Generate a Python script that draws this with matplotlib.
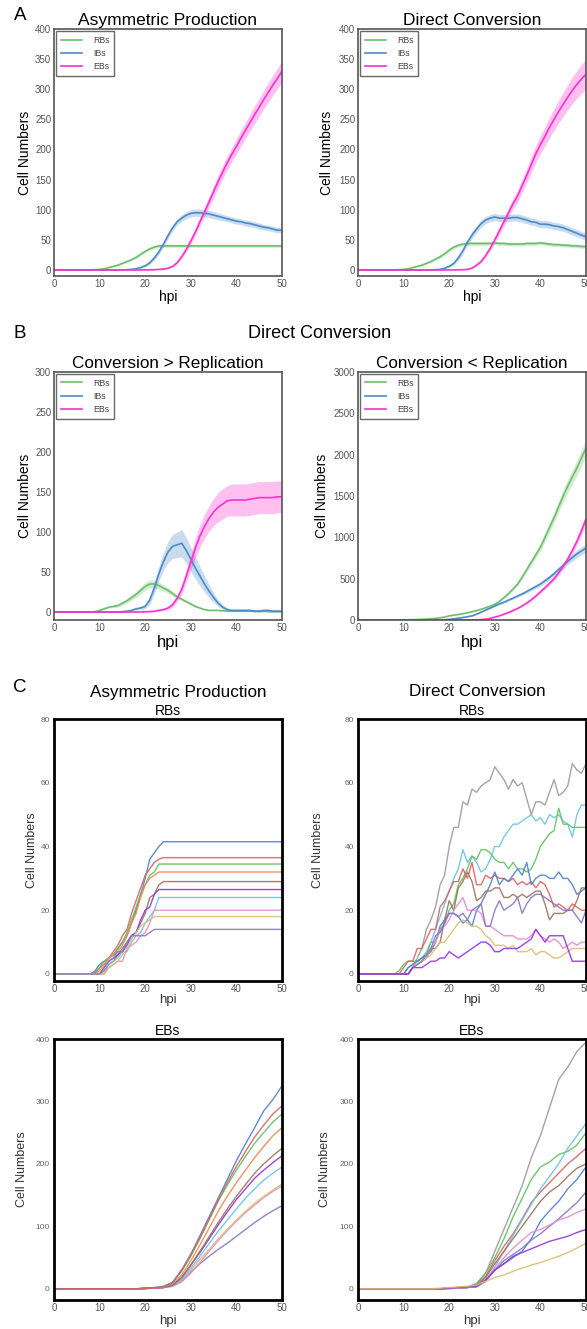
import numpy as np
import matplotlib
matplotlib.use("Agg")
import matplotlib.pyplot as plt

plt.rcParams['font.family'] = ['Liberation Sans', 'DejaVu Sans']

# ---------------- data ----------------
hpi = np.arange(0, 51)          # 0..50 hpi, 1 h steps
hpi2 = np.arange(0, 51, 2)      # 0..50 hpi, 2 h steps

series_names = ["RBs", "IBs", "EBs"]

# Panel A - Asymmetric Production (mean, band half-width)
rb_asym_mean = [0]*9 + [0.5, 1, 2, 4, 6, 8, 11, 14, 17, 21, 26, 31, 35, 38, 40, 40] + [40]*26
rb_asym_sd = [0]*9 + [0.3, 0.5, 0.7, 1, 1, 1.2, 1.5, 1.5, 1.8, 2, 2, 2.5, 2.5, 2.5, 2.5, 2.5, 2.5] + [2.5]*25
ib_asym_mean = [0]*16 + [0.5, 1, 2, 4, 7, 12, 20, 30, 43, 57,
                         70, 80, 86, 91, 94, 95, 95, 94, 93, 91,
                         89, 87, 85, 83, 81, 80, 78, 77, 75, 73,
                         71, 70, 68, 66, 66]
ib_asym_sd = [0]*16 + [0.3, 0.5, 1, 1.5, 2, 3, 3.5, 4, 4.5, 5,
                       5, 5, 5.5, 5.5, 6, 6, 6, 6, 6, 6,
                       5.5, 5.5, 5, 5, 5, 5, 5, 5, 5, 5,
                       4.5, 4.5, 4.5, 4.5, 4.5]
eb_asym_mean = [0]*21 + [0.3, 0.5, 1, 1.5, 3, 6, 12, 22, 34, 48,
                         63, 80, 96, 113, 130, 147, 163, 178, 192, 205,
                         219, 232, 245, 258, 270, 283, 295, 307, 318, 330]
eb_asym_sd = [0]*21 + [0.2, 0.3, 0.5, 0.7, 1, 1.5, 2, 3, 4, 5,
                       6, 7, 8, 9, 10, 10.5, 11, 11.5, 12, 12.5,
                       13, 13.5, 14, 14.5, 15, 15.5, 16, 16.5, 17, 18]

# Panel A - Direct Conversion
rb_direct_mean = [0]*9 + [0.5, 1, 2, 4, 6, 8, 11, 14, 18, 22,
                          27, 33, 38, 41, 43, 44, 44, 44, 44, 44,
                          44, 45, 44, 44, 43, 43, 43, 43, 44, 44,
                          44, 45, 44, 43, 42, 42, 41, 41, 40, 40,
                          39, 39]
rb_direct_sd = [0]*9 + [0.3, 0.5, 0.7, 1, 1, 1.2, 1.5, 1.8, 2, 2.5] + [3]*32
ib_direct_mean = [0]*17 + [0.5, 1, 3, 6, 11, 20, 32, 46, 58, 68,
                           77, 83, 86, 88, 86, 86, 86, 87, 87, 85,
                           83, 80, 79, 76, 76, 75, 73, 72, 70, 67,
                           64, 61, 58, 55]
ib_direct_sd = [0]*17 + [0.3, 0.5, 1, 2, 3, 4, 5, 5.5, 6, 6] + [6]*24
eb_direct_mean = [0]*22 + [0.3, 0.5, 1, 3, 8, 14, 24, 36, 50,
                           65, 80, 95, 110, 123, 140, 157, 175, 193, 208,
                           222, 237, 250, 263, 275, 287, 298, 308, 317, 325]
eb_direct_sd = [0]*22 + [0.2, 0.3, 0.5, 1, 1.5, 2, 3, 4, 5,
                         6, 7, 8, 9, 10, 11, 12, 13, 14, 15,
                         16, 17, 18, 19, 20, 21, 22, 23, 24, 25]

# Panel B - Conversion > Replication
rb_fast_mean = [0]*9 + [0.5, 2, 4, 6, 7, 8, 11, 14, 18, 22,
                        27, 32, 35, 35, 33, 30, 27, 23, 19, 16,
                        13, 10, 7, 5, 3, 2, 2, 2, 1.5, 1,
                        1, 1, 1, 1, 1, 1, 0.8, 0.8, 0.5, 0.5,
                        0.5, 0.5]
rb_fast_sd = [0]*9 + [0.3, 0.5, 1, 1, 1.5, 2, 2.5, 3, 3.5, 4,
                      4.5, 5, 5, 5, 4.5, 4, 3.5, 3, 2.5, 2,
                      1.5, 1.5, 1, 1, 0.5, 0.5, 0.5, 0.5, 0.5, 0.5] + [0.3]*12
ib_fast_mean = [0]*15 + [0.5, 1, 2, 4, 5, 7, 15, 30, 48, 63,
                         75, 82, 84, 86, 77, 66, 55, 45, 35, 26,
                         18, 11, 6, 3, 2, 2, 2, 2, 2, 1,
                         1, 2, 2, 1, 1, 1]
ib_fast_sd = [0]*15 + [0.3, 0.5, 1, 1.5, 2, 3, 5, 7, 9, 11,
                       13, 15, 16, 17, 16, 15, 14, 12, 10, 8,
                       6, 4, 3, 2, 1.5, 1.5, 1.5, 1.5, 1.5, 1.5,
                       1.5, 1.5, 1.5, 1.5, 1.5, 1.5]
eb_fast_mean = [0]*20 + [0.3, 0.5, 1, 2, 3, 5, 9, 17, 28, 45,
                         62, 80, 95, 107, 117, 125, 131, 135, 139, 140,
                         140, 140, 140, 141, 142, 143, 143, 143, 143, 144,
                         144]
eb_fast_sd = [0]*20 + [0.2, 0.3, 0.5, 1, 1.5, 2, 3, 4, 6, 8,
                       10, 12, 14, 15, 16, 17, 18, 19, 19, 20] + [20]*11

# Panel B - Conversion < Replication
rb_slow_mean = [0]*10 + [2, 3, 4, 6, 8, 11, 15, 20, 27, 36,
                         50, 58, 67, 77, 88, 100, 115, 130, 148, 168,
                         190, 225, 270, 320, 375, 435, 520, 610, 700, 790,
                         880, 1000, 1120, 1240, 1370, 1500, 1620, 1730, 1840, 1960,
                         2080]
rb_slow_sd = [0]*10 + [0.5]*10 + [3, 3, 4, 4, 5, 5, 6, 7, 8, 9,
                                   10, 12, 14, 16, 19, 22, 26, 30, 35, 40,
                                   45, 50, 56, 62, 68, 75, 80, 85, 90, 95,
                                   100]
ib_slow_mean = [0]*18 + [2, 4, 8, 14, 22, 30, 40, 50, 70, 95,
                         120, 145, 170, 195, 215, 240, 265, 290, 315, 345,
                         375, 405, 435, 475, 515, 560, 610, 660, 710, 755,
                         800, 835, 870]
ib_slow_sd = [0]*18 + [0.5, 1, 1, 2, 2, 3, 3, 4, 5, 6,
                       7, 8, 9, 10, 11, 12, 13, 14, 16, 18,
                       20, 22, 24, 26, 28, 30, 33, 36, 39, 42,
                       45, 48, 50]
eb_slow_mean = [0]*26 + [2, 5, 10, 20, 35,
                         50, 70, 90, 115, 140, 170, 205, 245, 290, 340,
                         390, 445, 500, 570, 650, 740, 840, 950, 1080, 1220]
eb_slow_sd = [0]*26 + [0.5, 1, 1, 2, 2,
                       3, 4, 5, 6, 7, 8, 10, 12, 14, 16,
                       18, 20, 23, 26, 30, 34, 40, 48, 56, 65]

# Panel C - individual runs
run_colors = {"blue": "#4f7fcf", "red": "#d96262", "green": "#5fc060", "orange": "#ee8a4f",
              "brown": "#9b7259", "violet": "#9131de", "cyan": "#6cc3df", "pink": "#e48ccb",
              "tan": "#d9bf70", "lavender": "#8378c2", "gray": "#9a9a9a"}

asym_rb_runs = {
    "blue":     [0]*9 + [1, 3, 4, 5, 6, 8, 10, 12, 16, 20, 25, 30, 36, 38, 40] + [41.5]*27,
    "red":      [0]*9 + [0.5, 2, 3, 5, 7, 9, 12, 14, 19, 23, 27, 31, 33, 35, 36] + [36.5]*27,
    "green":    [0]*10 + [2, 4, 5, 6, 8, 10, 13, 17, 21, 25, 28, 31, 32] + [34.5]*28,
    "orange":   [0]*10 + [1, 3, 5, 6, 7, 9, 12, 16, 19, 24, 28, 30, 31] + [32]*28,
    "brown":    [0]*11 + [1, 3, 4, 6, 8, 10, 12, 13, 16, 19, 24, 25, 28] + [29]*27,
    "violet":   [0]*11 + [2, 4, 5, 6, 7, 9, 12, 13, 17, 20, 21, 25] + [26.5]*28,
    "cyan":     [0]*12 + [3, 4, 5, 7, 7, 10, 12, 13, 16, 18, 20] + [24]*28,
    "pink":     [0]*12 + [2, 3, 4, 4, 8, 9, 10, 12, 13, 16] + [20]*29,
    "tan":      [0]*12 + [2, 3, 4, 6, 8, 11, 13, 15, 16, 17] + [18]*29,
    "lavender": [0]*11 + [2, 4, 5, 7, 7, 10, 12, 12, 12, 12, 13] + [14]*29,
}

direct_rb_runs = {
    "gray":     [0]*12 + [2, 5, 8, 14, 17, 21, 28, 31, 40, 46,
                          46, 54, 53, 58, 57, 59, 60, 61, 65, 63,
                          61, 58, 61, 59, 60, 55, 50, 54, 54, 53,
                          57, 61, 56, 57, 59, 66, 64, 63, 66],
    "cyan":     [0]*11 + [2, 3, 4, 5, 7, 10, 14, 18, 22, 26,
                          30, 33, 39, 35, 37, 35, 32, 33, 36, 40,
                          40, 43, 45, 47, 47, 48, 49, 50, 48, 49,
                          47, 50, 49, 50, 48, 47, 43, 50, 53, 53],
    "green":    [0]*9 + [1, 3, 4, 4, 4, 5, 6, 10, 10, 14,
                         16, 20, 22, 28, 30, 33, 37, 36, 39, 39,
                         38, 36, 35, 35, 33, 35, 33, 33, 32, 33,
                         36, 40, 42, 44, 45, 52, 47, 47, 46, 46,
                         46, 46],
    "red":      [0]*10 + [2, 4, 4, 8, 8, 11, 14, 14, 21, 23,
                          26, 29, 29, 33, 30, 35, 28, 28, 31, 30,
                          31, 30, 30, 29, 30, 28, 29, 28, 29, 27,
                          29, 28, 25, 21, 22, 21, 20, 22, 21, 20,
                          20],
    "blue":     [0]*11 + [2, 3, 4, 5, 6, 7, 10, 15, 17, 19,
                          19, 18, 16, 17, 15, 20, 22, 25, 28, 32,
                          28, 30, 29, 31, 33, 31, 35, 28, 30, 31,
                          31, 30, 30, 32, 30, 30, 28, 25, 26, 27],
    "brown":    [0]*12 + [2, 3, 4, 5, 8, 8, 10, 17, 23, 20,
                          27, 29, 32, 29, 23, 24, 26, 26, 27, 27,
                          24, 24, 25, 24, 25, 24, 25, 26, 26, 22,
                          17, 19, 19, 19, 20, 20, 23, 27, 27],
    "pink":     [0]*12 + [2, 3, 4, 5, 8, 10, 14, 15, 17, 20,
                          22, 24, 20, 20, 20, 19, 15, 15, 14, 13,
                          12, 12, 12, 11, 11, 11, 12, 14, 12, 11,
                          10, 11, 10, 8, 9, 10, 9, 10, 10],
    "tan":      [0]*12 + [2, 3, 4, 5, 6, 8, 10, 10, 12, 14,
                          16, 17, 16, 15, 15, 14, 12, 11, 9, 9,
                          9, 8, 9, 7, 7, 7, 8, 6, 7, 7,
                          6, 5, 5, 6, 7, 8, 8, 8, 8],
    "lavender": [0]*12 + [2, 3, 4, 6, 8, 12, 13, 16, 19, 19,
                          18, 19, 17, 20, 21, 22, 15, 15, 20, 23,
                          20, 21, 22, 24, 19, 22, 24, 25, 25, 24,
                          23, 22, 21, 20, 20, 20, 18, 16, 20],
    "violet":   [0]*12 + [2, 2, 2, 3, 4, 4, 5, 5, 7, 6,
                          5, 6, 7, 8, 9, 10, 10, 9, 7, 7,
                          8, 8, 8, 8, 9, 10, 11, 14, 12, 10,
                          12, 12, 12, 12, 8, 4, 4, 4, 4],
}

asym_eb_runs = {
    "lavender": [0]*10 + [0.5, 1, 2] + [4, 12, 27, 40, 52, 63, 73, 84, 95, 106, 116, 125, 133],
    "pink":     [0]*10 + [0.5, 1, 2] + [4, 11, 25, 42, 60, 77, 93, 108, 122, 134, 146, 156, 165],
    "tan":      [0]*10 + [0.5, 1, 2] + [5, 14, 30, 47, 63, 80, 95, 110, 124, 137, 148, 158, 168],
    "cyan":     [0]*10 + [0.5, 1, 2] + [5, 15, 33, 52, 72, 92, 110, 128, 145, 160, 174, 185, 195],
    "violet":   [0]*10 + [0.5, 1, 2] + [6, 18, 38, 58, 80, 102, 123, 143, 160, 177, 190, 202, 213],
    "brown":    [0]*10 + [0.5, 1, 2] + [6, 18, 38, 60, 83, 106, 128, 148, 167, 185, 200, 213, 225],
    "orange":   [0]*10 + [0.5, 1, 2] + [8, 22, 45, 70, 97, 124, 148, 170, 190, 210, 228, 245, 258],
    "green":    [0]*10 + [0.5, 1, 3] + [10, 28, 52, 80, 110, 140, 166, 190, 212, 233, 250, 267, 280],
    "blue":     [0]*10 + [1, 2, 4] + [10, 30, 55, 85, 115, 145, 175, 205, 232, 258, 285, 303, 325],
    "red":      [0]*10 + [0.5, 1, 3] + [10, 30, 55, 82, 112, 142, 170, 196, 220, 243, 262, 280, 293],
}

direct_eb_runs = {
    "gray":     [0]*10 + [1, 2, 3] + [8, 25, 60, 95, 130, 165, 210, 245, 290, 335, 355, 380, 395],
    "green":    [0]*10 + [1, 2, 3] + [8, 25, 50, 80, 115, 145, 175, 195, 203, 215, 220, 230, 250],
    "red":      [0]*10 + [1, 2, 3] + [6, 20, 45, 68, 88, 112, 138, 155, 170, 185, 200, 212, 225],
    "cyan":     [0]*10 + [0.5, 1, 2] + [3, 12, 35, 60, 85, 110, 135, 160, 180, 200, 225, 245, 265],
    "brown":    [0]*10 + [0.5, 1, 2] + [5, 18, 40, 60, 80, 100, 120, 140, 155, 165, 180, 193, 200],
    "blue":     [0]*10 + [0.5, 1, 2] + [3, 12, 30, 40, 50, 60, 80, 108, 125, 140, 160, 175, 195],
    "lavender": [0]*10 + [0.5, 1, 2] + [4, 14, 30, 45, 55, 65, 78, 88, 100, 112, 125, 138, 155],
    "pink":     [0]*10 + [0.5, 1, 2] + [4, 14, 32, 50, 65, 78, 90, 95, 102, 110, 115, 122, 128],
    "violet":   [0]*10 + [1, 2, 3] + [4, 14, 30, 40, 52, 58, 64, 70, 76, 80, 84, 90, 95],
    "tan":      [0]*9 + [1, 2, 3, 4] + [6, 12, 18, 22, 28, 33, 38, 42, 47, 52, 58, 65, 73],
}

x_ticks = [0, 10, 20, 30, 40, 50]

# ---------------- figure ----------------
W, H = 587, 1329
fig = plt.figure(figsize=(W / 100, H / 100), dpi=100)

def ax_at(left, top, right, bottom):
    return fig.add_axes([left / W, 1 - bottom / H, (right - left) / W, (bottom - top) / H])

line_colors = ["#6cc06c", "#4a8bc9", "#ff2fd0"]

def mean_panel(ax, means, sds, ylim, yticks, xlabel_px, ylabel_px, box, xlabel_size):
    left, top, right, bottom = box
    for m, s, c, name in zip(means, sds, line_colors, series_names):
        m = np.asarray(m, float); s = np.asarray(s, float)
        ax.fill_between(hpi, m - s, m + s, color=c, alpha=0.3, lw=0)
        ax.plot(hpi, m, color=c, lw=1.2, label=name)
    ax.set_xlim(0, 50)
    ax.set_ylim(*ylim)
    ax.set_xticks(x_ticks)
    ax.set_yticks(yticks)
    ax.tick_params(length=0, labelsize=7, labelcolor="#555555", pad=2)
    for sp in ax.spines.values():
        sp.set_color("#555555"); sp.set_linewidth(1.2)
    leg = ax.legend(loc="upper left", fontsize=6.3, frameon=True, fancybox=False,
                    edgecolor="#444444", handlelength=2.4, borderpad=0.5,
                    labelspacing=0.5, handletextpad=1.3, borderaxespad=0.25)
    leg.get_frame().set_linewidth(1.0)
    for t in leg.get_texts():
        t.set_color("#444444")
    ax.set_xlabel("hpi", fontsize=xlabel_size)
    ax.set_ylabel("Cell Numbers", fontsize=10)
    ax.xaxis.label.set_va("center")
    ax.yaxis.label.set_va("center")
    ax.xaxis.set_label_coords(0.5, (bottom - xlabel_px) / (bottom - top))
    ax.yaxis.set_label_coords((ylabel_px - left) / (right - left), 0.5)

def run_panel(ax, runs, xs, ylim, yticks, xlabel_px, ylabel_px, box):
    left, top, right, bottom = box
    for name, vals in runs.items():
        ax.plot(xs, vals, color=run_colors[name], lw=1.0, alpha=0.9)
    ax.set_xlim(0, 50)
    ax.set_ylim(*ylim)
    ax.set_xticks(x_ticks)
    ax.set_yticks(yticks)
    ax.tick_params(axis="x", length=0, labelsize=7, labelcolor="#555555", pad=2)
    ax.tick_params(axis="y", length=0, labelsize=6, labelcolor="#666666", pad=3)
    for sp in ax.spines.values():
        sp.set_color("black"); sp.set_linewidth(2.0)
    ax.set_xlabel("hpi", fontsize=9.5, color="#333333")
    ax.set_ylabel("Cell Numbers", fontsize=9, color="#333333")
    ax.xaxis.label.set_va("center")
    ax.yaxis.label.set_va("center")
    ax.xaxis.set_label_coords(0.5, (bottom - xlabel_px) / (bottom - top))
    ax.yaxis.set_label_coords((ylabel_px - left) / (right - left), 0.5)

# Panel A
boxA1 = (54, 29, 282, 276)
boxA2 = (358, 29, 586, 276)
a1 = ax_at(*boxA1)
mean_panel(a1, [rb_asym_mean, ib_asym_mean, eb_asym_mean], [rb_asym_sd, ib_asym_sd, eb_asym_sd],
           (-10, 400), range(0, 401, 50), 297, 25, boxA1, 10)
a1.set_title("Asymmetric Production", fontsize=12.5, pad=3)
a2 = ax_at(*boxA2)
mean_panel(a2, [rb_direct_mean, ib_direct_mean, eb_direct_mean], [rb_direct_sd, ib_direct_sd, eb_direct_sd],
           (-10, 400), range(0, 401, 50), 297, 327, boxA2, 10)
a2.set_title("Direct Conversion", fontsize=12.5, pad=3)

# Panel B
boxB1 = (54, 372, 282, 620)
boxB2 = (358, 372, 586, 620)
b1 = ax_at(*boxB1)
mean_panel(b1, [rb_fast_mean, ib_fast_mean, eb_fast_mean], [rb_fast_sd, ib_fast_sd, eb_fast_sd],
           (-10, 300), range(0, 301, 50), 643, 25, boxB1, 12)
b1.set_title("Conversion > Replication", fontsize=12.3, pad=3)
b2 = ax_at(*boxB2)
mean_panel(b2, [rb_slow_mean, ib_slow_mean, eb_slow_mean], [rb_slow_sd, ib_slow_sd, eb_slow_sd],
           (0, 3000), range(0, 3001, 500), 643, 322, boxB2, 12)
b2.set_title("Conversion < Replication", fontsize=12.3, pad=3)

# Panel C
boxC1 = (54, 719, 282, 981)
boxC2 = (358, 719, 586, 981)
boxC3 = (54, 1039, 282, 1300)
boxC4 = (358, 1039, 586, 1300)
c1 = ax_at(*boxC1)
run_panel(c1, asym_rb_runs, hpi, (-2.2, 80), [0, 20, 40, 60, 80], 1000, 32, boxC1)
c1.set_title("RBs", fontsize=10, pad=3)
c2 = ax_at(*boxC2)
run_panel(c2, direct_rb_runs, hpi, (-2.2, 80), [0, 20, 40, 60, 80], 1000, 318, boxC2)
c2.set_title("RBs", fontsize=10, pad=3)
c3 = ax_at(*boxC3)
run_panel(c3, asym_eb_runs, hpi2, (-18, 400), [0, 100, 200, 300, 400], 1321, 22, boxC3)
c3.set_title("EBs", fontsize=10, pad=3)
c4 = ax_at(*boxC4)
run_panel(c4, direct_eb_runs, hpi2, (-18, 400), [0, 100, 200, 300, 400], 1321, 325, boxC4)
c4.set_title("EBs", fontsize=10, pad=3)

def ftext(xp, yp, s, size, **kw):
    fig.text(xp / W, 1 - yp / H, s, fontsize=size, va="center", **kw)

ftext(20, 15, "A", 13.5, ha="center")
ftext(20, 334, "B", 13.5, ha="center")
ftext(20, 687, "C", 13.5, ha="center")
ftext(320, 334, "Direct Conversion", 13, ha="center")
ftext(178, 692, "Asymmetric Production", 12.3, ha="center")
ftext(477, 692, "Direct Conversion", 12.3, ha="center")

fig.savefig("out.png", dpi=100)
